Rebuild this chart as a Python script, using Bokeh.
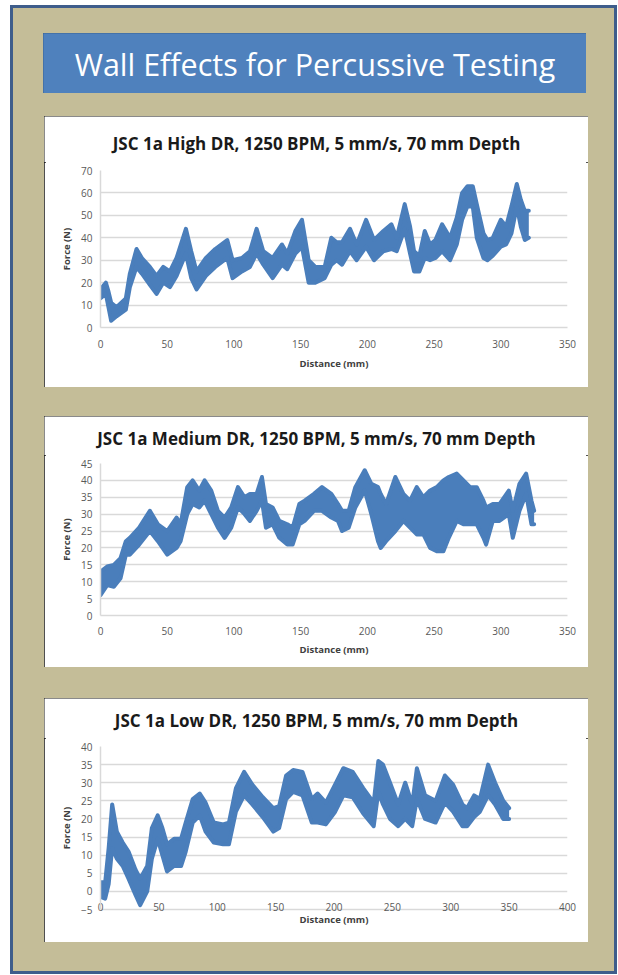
from bokeh.plotting import figure
from bokeh.layouts import column
from bokeh.models import Range1d, Label, FixedTicker
from bokeh.embed import file_html
from bokeh.resources import INLINE

# ---------------- data ----------------
MAIN_TITLE = "Wall Effects for Percussive Testing"

title_high = "JSC 1a High DR, 1250 BPM, 5 mm/s, 70 mm Depth"
dist_high = [0, 4, 6, 8, 12, 19, 22, 27, 31, 37, 42, 47, 52, 57, 64, 68, 72, 79, 86, 95,
             99, 106, 112, 117, 122, 129, 136, 140, 146, 151, 156, 161, 168, 173, 177,
             181, 187, 192, 199, 205, 212, 218, 222, 228, 232, 235, 239, 243, 247, 251,
             256, 262, 267, 271, 275, 279, 282, 287, 290, 294, 300, 304, 308, 312, 315,
             318, 321]
force_high_lo = [13, 15, 9, 3, 5, 8, 18, 27, 24, 19, 15, 20, 18, 23, 33, 22, 17, 23, 27, 31,
                 22, 25, 27, 33, 28, 22, 28, 26, 33, 36, 20, 20, 22, 28, 30,
                 28, 34, 30, 36, 30, 34, 35, 34, 44, 33, 25, 25, 31, 30, 31,
                 34, 30, 37, 48, 54, 54, 40, 31, 30, 32, 36, 37, 42, 54, 45,
                 39, 40]
force_high_hi = [17, 20, 16, 11, 9, 13, 24, 35, 31, 27, 23, 27, 25, 31, 44, 34, 25, 31, 35, 39,
                 30, 31, 34, 44, 34, 31, 37, 33, 43, 48, 30, 27, 27, 40, 38,
                 38, 44, 37, 48, 39, 43, 46, 40, 55, 45, 34, 32, 43, 37, 39,
                 46, 40, 49, 60, 63, 63, 55, 42, 39, 40, 48, 45, 54, 64, 57,
                 52, 52]

title_med = "JSC 1a Medium DR, 1250 BPM, 5 mm/s, 70 mm Depth"
dist_med = [0, 5, 10, 15, 19, 22, 29, 37, 43, 50, 57, 60, 65, 69, 74, 78, 83, 88, 93, 98,
            103, 108, 112, 117, 121, 124, 129, 134, 140, 144, 149, 153, 160, 166, 173,
            178, 181, 186, 191, 198, 203, 208, 210, 214, 221, 227, 232, 237, 242, 247,
            252, 257, 261, 267, 272, 277, 282, 287, 289, 294, 299, 306, 309, 314, 319,
            323, 325]
force_med_lo = [6, 9, 8.5, 11, 18, 18, 21, 25, 22, 18, 20, 22, 30, 33, 32, 34, 30, 26, 23, 26,
                32, 30, 28, 31, 34, 26, 27, 23, 21, 21, 27, 28, 31, 31, 29,
                28, 25, 26, 32, 37, 30, 22, 20, 22, 25, 28, 26, 24, 24, 20,
                19, 19, 23, 28, 27, 27, 27, 23, 21, 28, 28, 30, 23, 31, 36,
                27, 27]
force_med_hi = [13, 14.5, 15, 17, 22, 23, 26, 31, 27, 25, 29, 27, 38, 40, 37, 40, 37, 31, 29, 32,
                38, 35, 36, 36, 41, 33, 32, 28, 27, 26, 33, 34, 36, 38, 36,
                33, 31, 31, 38, 43, 39, 38, 36, 33, 41, 36, 34, 38, 35, 37,
                38, 40, 41, 42, 40, 38, 38, 34, 32, 33, 33, 37, 31, 39, 42,
                34, 31]

title_low = "JSC 1a Low DR, 1250 BPM, 5 mm/s, 70 mm Depth"
dist_low = [0, 4, 7, 10, 14, 19, 24, 30, 34, 40, 44, 49, 53, 57, 63, 69, 73, 79, 85, 90,
            97, 105, 110, 116, 123, 130, 139, 148, 153, 159, 165, 173, 181, 186, 193,
            201, 208, 216, 225, 234, 238, 242, 248, 255, 261, 267, 271, 278, 287, 295,
            302, 310, 314, 320, 325, 332, 338, 345, 350]
force_low_lo = [-1.5, -2, 2, 12, 9, 7, 3.5, -1, -3.8, 0, 9, 14.5, 10, 5.5, 7, 7, 11, 19, 21, 16.5,
                13.5, 13, 13, 22, 26.5, 24, 20.5, 16.5, 17.5, 25.5, 27.5, 26.5, 19, 19, 18.5,
                22, 26.5, 26, 21.5, 18, 27.5, 24, 20, 18, 20, 18, 25.5, 20, 19, 24.5,
                22, 18, 18, 20.5, 22, 26.5, 24, 20, 20]
force_low_hi = [2.5, 2.5, 12, 24, 16.5, 13.5, 11, 6, 3.5, 7, 17.5, 21, 17.5, 13, 14.5, 14.5, 19, 25.5, 27, 24.5,
                19, 18.5, 19, 28.5, 33, 29.5, 26, 23, 23.5, 32, 33.5, 33, 25.5, 27, 24.5,
                29.5, 34, 33, 28.5, 24.5, 36, 35, 30, 24, 30, 24, 34, 26.5, 25, 32,
                29.5, 24, 23, 26.5, 25.5, 35, 30, 25, 23]

x_ticks_high = [0, 50, 100, 150, 200, 250, 300, 350]
y_ticks_high = [0, 10, 20, 30, 40, 50, 60, 70]
x_ticks_med = [0, 50, 100, 150, 200, 250, 300, 350]
y_ticks_med = [0, 5, 10, 15, 20, 25, 30, 35, 40, 45]
x_ticks_low = [0, 50, 100, 150, 200, 250, 300, 350, 400]
y_ticks_low = [-5, 0, 5, 10, 15, 20, 25, 30, 35, 40]

X_LABEL = "Distance (mm)"
Y_LABEL = "Force (N)"

# ---------------- styling ----------------
TAN = "#C4BD98"
FRAME_BLUE = "#3E5D8B"
BOX_BLUE = "#4F81BD"
BOX_EDGE = "#3A6394"
SERIES = "#4A7EBB"
GRID = "#D9D9D9"
FONT = "Open Sans"
PANEL_W = 544


def title_strip(text, h, centre_from_top):
    # decorative strip: its y range is in pixels, measured from the strip's bottom
    t = figure(width=PANEL_W, height=h, x_range=Range1d(0, 1), y_range=Range1d(0, h),
               output_backend="svg", toolbar_location=None,
               x_axis_location=None, y_axis_location=None, min_border=0)
    t.grid.visible = False
    t.background_fill_color = "white"
    t.border_fill_color = "white"
    t.outline_line_color = None
    t.add_layout(Label(x=0.5, y=h - centre_from_top,
                       text=text, text_align="center", text_baseline="middle",
                       text_color="#1A1A1A", text_font=FONT, text_font_size="17px",
                       text_font_style="bold"))
    return column(t, spacing=0)


def chart(xs, lo, hi, xticks, yticks, h, top, bottom, x_lab_standoff, x_title_standoff):
    p = figure(width=PANEL_W, height=h,
               x_range=Range1d(xticks[0], xticks[-1]),
               y_range=Range1d(yticks[0], yticks[-1]),
               output_backend="svg", toolbar_location=None,
               min_border_left=56, min_border_right=21,
               min_border_top=top, min_border_bottom=bottom)
    p.background_fill_color = "white"
    p.border_fill_color = "white"
    p.outline_line_color = None

    p.xgrid.visible = False
    p.ygrid.ticker = FixedTicker(ticks=yticks)
    p.ygrid.grid_line_color = GRID
    p.ygrid.grid_line_width = 1.5

    p.xaxis.ticker = FixedTicker(ticks=xticks)
    p.yaxis.ticker = FixedTicker(ticks=yticks)
    for ax in (p.xaxis, p.yaxis):
        ax.axis_line_color = GRID
        ax.axis_line_width = 1.5
        ax.major_tick_line_color = None
        ax.minor_tick_line_color = None
        ax.major_tick_out = 0
        ax.major_tick_in = 0
        ax.major_label_text_font = FONT
        ax.major_label_text_font_size = "10px"
        ax.major_label_text_color = "#595959"
        ax.axis_label_text_font = FONT
        ax.axis_label_text_font_size = "9.5px"
        ax.axis_label_text_font_style = "bold"
        ax.axis_label_text_color = "#404040"
    p.xaxis.axis_label = X_LABEL
    p.yaxis.axis_label = Y_LABEL
    p.xaxis.major_label_standoff = x_lab_standoff
    p.xaxis.axis_label_standoff = x_title_standoff
    p.yaxis.major_label_standoff = 8
    p.yaxis.axis_label_standoff = 5

    p.varea(x=xs, y1=lo, y2=hi, fill_color=SERIES)
    p.line(xs, lo, line_width=4, line_color=SERIES, line_join="round", line_cap="round")
    p.line(xs, hi, line_width=4, line_color=SERIES, line_join="round", line_cap="round")
    return p


def panel(t, c, margin):
    box = column(t, c, spacing=0,
                 styles={"background-color": "white",
                         "outline": "2px solid #151515", "outline-offset": "-2px"})
    box.margin = margin
    return box


HDR_W, HDR_H = 543, 60
hdr = figure(width=HDR_W, height=HDR_H, x_range=Range1d(0, 1), y_range=Range1d(0, 1),
             output_backend="svg", toolbar_location=None,
             x_axis_location=None, y_axis_location=None, min_border=0)
hdr.grid.visible = False
hdr.background_fill_color = BOX_BLUE
hdr.border_fill_color = BOX_BLUE
hdr.outline_line_color = None
hdr.add_layout(Label(x=HDR_W / 2, y=HDR_H / 2, x_units="canvas", y_units="canvas",
                     text=MAIN_TITLE, text_align="center",
                     text_baseline="middle", text_color="white",
                     text_font=FONT, text_font_size="30.5px"))
hdr.styles = {"outline": "2px solid " + BOX_EDGE, "outline-offset": "-2px"}
hdr.margin = (28, 31, 0, 33)

# panel 1: 271 px tall, plot top 54 px below panel top, title centre 27 px below
panel1 = panel(title_strip(title_high, 46, 27),
               chart(dist_high, force_high_lo, force_high_hi, x_ticks_high, y_ticks_high,
                     225, 8, 60, 12, 6),
               (23, 29, 0, 34))
# panel 2: 251 px tall, plot top 47 px below panel top, title centre 22 px below
panel2 = panel(title_strip(title_med, 39, 22),
               chart(dist_med, force_med_lo, force_med_hi, x_ticks_med, y_ticks_med,
                     212, 8, 52, 11, 5),
               (29, 29, 0, 34))
# panel 3: 244 px tall, plot top 48 px below panel top, title centre 22 px below
panel3 = panel(title_strip(title_low, 40, 22),
               chart(dist_low, force_low_lo, force_low_hi, x_ticks_low, y_ticks_low,
                     204, 8, 33, -7, -1),
               (31, 29, 32, 34))

charts = column(panel1, panel2, panel3, spacing=0)
layout = column(hdr, charts, spacing=0,
                styles={"background-color": TAN,
                        "outline": "3px solid " + FRAME_BLUE,
                        "outline-offset": "-3px"})
layout.margin = (5, 0, 0, 10)

open("out.html", "w").write(file_html(layout, INLINE, "Wall Effects for Percussive Testing"))
